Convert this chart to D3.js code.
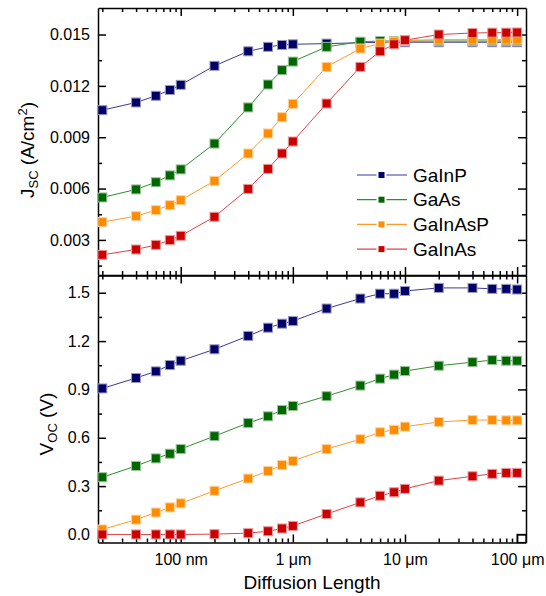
<!DOCTYPE html>
<html>
<head>
<meta charset="utf-8">
<script src="https://cdn.jsdelivr.net/npm/d3@7"></script>
<style>
  body { margin: 0; background: #fff; }
  svg { font-family: "Liberation Sans", Arial, sans-serif; }
  .axis path, .axis line { stroke: #000; stroke-width: 1.5; }
  .axis text { font-size: 16px; fill: #000; }
</style>
</head>
<body>
<svg width="546" height="596"></svg>
<script>
// **** data ****

// diffusion length in nm
var diffLength = [20, 40, 60, 80, 100, 200, 400, 600, 800, 1000,
                  2000, 4000, 6000, 8000, 10000, 20000, 40000, 60000, 80000, 100000];

var materials = ['GaInP', 'GaAs', 'GaInAsP', 'GaInAs'];

// short circuit current, A/cm2
var jscGaInP   = [0.01058, 0.01103, 0.01142, 0.01176, 0.01206, 0.01317, 0.01402, 0.01428, 0.01439, 0.01443,
                  0.01447, 0.01452, 0.01454, 0.01455, 0.01455, 0.01455, 0.01455, 0.01455, 0.01455, 0.01455];
var jscGaAs    = [0.00548, 0.00595, 0.00637, 0.00677, 0.00712, 0.00863, 0.01074, 0.01208, 0.01292, 0.01342,
                  0.01428, 0.01458, 0.01462, 0.01462, 0.01462, 0.01462, 0.01462, 0.01462, 0.01462, 0.01462];
var jscGaInAsP = [0.00404, 0.00439, 0.00474, 0.00503, 0.00532, 0.00645, 0.00805, 0.00922, 0.01017, 0.01095,
                  0.01311, 0.01418, 0.01447, 0.01458, 0.01466, 0.0147, 0.0147, 0.0147, 0.0147, 0.0147];
var jscGaInAs  = [0.00213, 0.00244, 0.00271, 0.00299, 0.00324, 0.00435, 0.00598, 0.00715, 0.00805, 0.00875,
                  0.01097, 0.01311, 0.01402, 0.01443, 0.01467, 0.0150, 0.01509, 0.01511, 0.01511, 0.01512];

// open circuit voltage, V
var vocGaInP   = [0.906, 0.971, 1.012, 1.051, 1.078, 1.149, 1.232, 1.283, 1.308, 1.324,
                  1.402, 1.464, 1.494, 1.494, 1.511, 1.53, 1.53, 1.524, 1.524, 1.52];
var vocGaAs    = [0.355, 0.425, 0.472, 0.501, 0.530, 0.610, 0.692, 0.733, 0.772, 0.797,
                  0.858, 0.924, 0.967, 0.992, 1.014, 1.047, 1.069, 1.082, 1.078, 1.078];
var vocGaInAsP = [0.031, 0.092, 0.136, 0.168, 0.193, 0.271, 0.347, 0.394, 0.431, 0.456,
                  0.530, 0.591, 0.634, 0.649, 0.669, 0.698, 0.710, 0.710, 0.708, 0.708];
var vocGaInAs  = [0, 0, 0, 0, 0, 0.002, 0.008, 0.02, 0.037, 0.053,
                  0.127, 0.199, 0.240, 0.262, 0.283, 0.334, 0.361, 0.376, 0.382, 0.382];

var xTickValues = [100, 1000, 10000, 100000];
var xTickLabels = ['100 nm', '1 \u03BCm', '10 \u03BCm', '100 \u03BCm'];
var jscTicks = [0.003, 0.006, 0.009, 0.012, 0.015];
var vocTicks = [0, 0.3, 0.6, 0.9, 1.2, 1.5];

var jscSeries = [jscGaInP, jscGaAs, jscGaInAsP, jscGaInAs];
var vocSeries = [vocGaInP, vocGaAs, vocGaInAsP, vocGaInAs];

// marker / line colours per material
var markerColor = ['#000066', '#006600', '#ff8c00', '#cc0000'];
var lineColor   = ['#3b3b96', '#2f8f2f', '#ff9a2a', '#dd4444'];

// **** scales ****

var left = 98, right = 526;
var topPanel = [8, 275];
var botPanel = [275.5, 542.5];

var xScale = d3.scaleLog().domain([18.3, 120000]).range([left, right]);
var jscScale = d3.scaleLinear().domain([0.00095, 0.01655]).range([topPanel[1], topPanel[0]]);
var vocScale = d3.scaleLinear().domain([-0.05, 1.607]).range([botPanel[1], botPanel[0]]);

// minor ticks of the log axis: 2..9 x 10^k
var xMinor = [];
for (var k = 1; k <= 5; k++) {
    for (var m = 2; m <= 9; m++) {
        var v = m * Math.pow(10, k);
        if (v >= 18.3 && v <= 120000) xMinor.push(v);
    }
}
var jscMinor = jscTicks.map(function(d){ return d - 0.0015; });
var vocMinor = vocTicks.slice(1).map(function(d){ return d - 0.15; });

var svg = d3.select('svg');

// **** axes ****

function drawPanel(yScale, y0, y1, major, minor, fmt) {
    // left (labelled) and right
    svg.append('g').attr('class', 'axis')
        .attr('transform', 'translate(' + left + ',0)')
        .call(d3.axisLeft(yScale).tickValues(major).tickFormat(fmt)
              .tickSizeInner(-8).tickSizeOuter(0).tickPadding(8));
    svg.append('g').attr('class', 'axis')
        .attr('transform', 'translate(' + left + ',0)')
        .call(d3.axisLeft(yScale).tickValues(minor).tickFormat('')
              .tickSizeInner(-4).tickSizeOuter(0))
        .select('.domain').remove();
    svg.append('g').attr('class', 'axis')
        .attr('transform', 'translate(' + right + ',0)')
        .call(d3.axisRight(yScale).tickValues(major).tickFormat('')
              .tickSizeInner(-8).tickSizeOuter(0));
    svg.append('g').attr('class', 'axis')
        .attr('transform', 'translate(' + right + ',0)')
        .call(d3.axisRight(yScale).tickValues(minor).tickFormat('')
              .tickSizeInner(-4).tickSizeOuter(0))
        .select('.domain').remove();

    // top and bottom, ticks pointing inward
    [[y0, d3.axisTop], [y1, d3.axisBottom]].forEach(function(p){
        svg.append('g').attr('class', 'axis')
            .attr('transform', 'translate(0,' + p[0] + ')')
            .call(p[1](xScale).tickValues(xTickValues).tickFormat('')
                  .tickSizeInner(-8).tickSizeOuter(0));
        svg.append('g').attr('class', 'axis')
            .attr('transform', 'translate(0,' + p[0] + ')')
            .call(p[1](xScale).tickValues(xMinor).tickFormat('')
                  .tickSizeInner(-4).tickSizeOuter(0))
            .select('.domain').remove();
    });
}

drawPanel(jscScale, topPanel[0], topPanel[1], jscTicks, jscMinor, d3.format('.3f'));
drawPanel(vocScale, botPanel[0], botPanel[1], vocTicks, vocMinor, d3.format('.1f'));

svg.selectAll('.axis .domain').attr('stroke-width', 2);

// x labels under the lower panel
svg.append('g').attr('class', 'axis')
    .attr('transform', 'translate(0,' + botPanel[1] + ')')
    .call(d3.axisBottom(xScale).tickValues(xTickValues)
          .tickFormat(function(d, i){ return xTickLabels[i]; })
          .tickSize(0).tickPadding(11))
    .select('.domain').remove();

// **** series ****

function drawSeries(yScale, series) {
    series.forEach(function(vals, i) {
        var pts = diffLength.map(function(x, j){ return [x, vals[j]]; });
        var line = d3.line()
            .x(function(d){ return xScale(d[0]); })
            .y(function(d){ return yScale(d[1]); });
        svg.append('path').datum(pts)
            .attr('d', line)
            .attr('fill', 'none')
            .attr('stroke', lineColor[i])
            .attr('stroke-width', 1);
        svg.append('g').selectAll('rect').data(pts).enter()
            .append('rect')
            .attr('x', function(d){ return xScale(d[0]) - 4.5; })
            .attr('y', function(d){ return yScale(d[1]) - 4.5; })
            .attr('width', 9).attr('height', 9)
            .attr('fill', markerColor[i])
            .attr('stroke', d3.interpolateRgb(markerColor[i], '#fff')(0.6))
            .attr('stroke-width', 1);
    });
}

drawSeries(jscScale, jscSeries);
drawSeries(vocScale, vocSeries);

// small box in the lower right corner
svg.append('rect')
    .attr('x', xScale(100000)).attr('y', vocScale(-0.0))
    .attr('width', right - xScale(100000)).attr('height', botPanel[1] - vocScale(0))
    .attr('fill', 'none').attr('stroke', '#000').attr('stroke-width', 1.2);

// **** legend ****

var legend = svg.append('g').attr('transform', 'translate(357,175)');
materials.forEach(function(name, i) {
    var row = legend.append('g').attr('transform', 'translate(0,' + (i * 24.7) + ')');
    row.append('line').attr('x1', 0).attr('x2', 50).attr('y1', 0).attr('y2', 0)
        .attr('stroke', lineColor[i]).attr('stroke-width', 1.2);
    row.append('rect').attr('x', 20.5).attr('y', -4).attr('width', 8).attr('height', 8)
        .attr('fill', markerColor[i])
        .attr('stroke', '#fff').attr('stroke-width', 2);
    row.append('text').text(name)
        .attr('x', 56).attr('y', 0).attr('dy', '0.35em')
        .style('font-size', '19px');
});

// **** axis titles ****

svg.append('text')
    .text('Diffusion Length')
    .attr('text-anchor', 'middle')
    .attr('x', (left + right) / 2 + 0).attr('y', 589)
    .style('font-size', '19px');

var jt = svg.append('text')
    .attr('text-anchor', 'middle')
    .attr('transform', 'translate(34,150) rotate(-90)')
    .style('font-size', '19px');
jt.append('tspan').text('J');
jt.append('tspan').text('SC').attr('dy', 4).style('font-size', '13px');
jt.append('tspan').text(' (A/cm').attr('dy', -4);
jt.append('tspan').text('2').attr('dy', -7).style('font-size', '13px');
jt.append('tspan').text(')').attr('dy', 7);

var vt = svg.append('text')
    .attr('text-anchor', 'middle')
    .attr('transform', 'translate(53,424) rotate(-90)')
    .style('font-size', '19px');
vt.append('tspan').text('V');
vt.append('tspan').text('OC').attr('dy', 4).style('font-size', '13px');
vt.append('tspan').text(' (V)').attr('dy', -4);
</script>
</body>
</html>
